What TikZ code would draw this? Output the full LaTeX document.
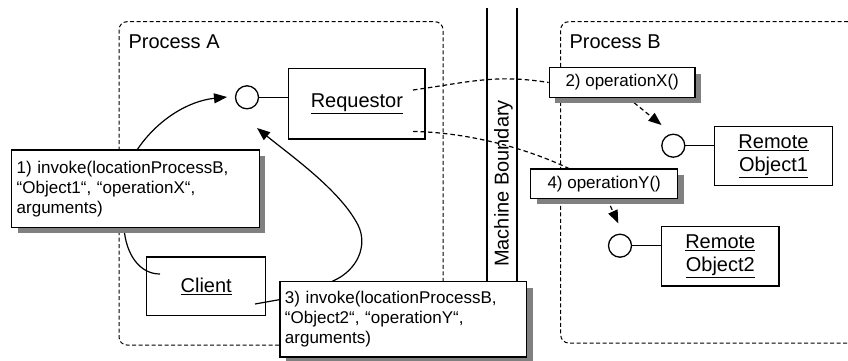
\documentclass[tikz,border=0pt]{standalone}
\usepackage{fontspec}
\setmainfont{Liberation Sans}
\usetikzlibrary{arrows.meta,shadows}
\pgfdeclarelayer{back}
\pgfdeclarelayer{front}
\pgfsetlayers{back,main,front}

\begin{document}
\begin{tikzpicture}[x=1pt,y=-1pt,
  label/.style={inner sep=0pt, font=\fontsize{20}{23}\selectfont},
  obj/.style={draw, line width=1.3pt, fill=white, inner sep=0pt, align=center,
    font=\fontsize{20}{23}\selectfont},
  port/.style={draw, circle, line width=1.3pt, fill=white, minimum size=23pt, inner sep=0pt},
  note/.style={draw, line width=1.3pt, fill=white, inner ysep=0pt, inner xsep=5pt,
    font=\fontsize{17}{20}\selectfont,
    drop shadow={shadow xshift=6pt, shadow yshift=-6pt, fill=black!50, opacity=1}},
  proc/.style={line width=1pt, dash pattern=on 4pt off 2.5pt, rounded corners=8pt},
  link/.style={line width=1.2pt},
  msg/.style={line width=1.2pt, dash pattern=on 4.5pt off 3pt},
  tip/.style={-{Triangle[length=13pt,width=10pt]}}
]
\useasboundingbox (0,0) rectangle (848,360);

% process containers and the machine boundary
\begin{pgfonlayer}{back}
  \draw[proc] (119,21.7) rectangle (443,345);
  \draw[proc] (848,21.7) -- (560.7,21.7) -- (560.7,343) -- (848,343);
  \draw[line width=1.8pt] (487.3,8) -- (487.3,300);
  \draw[line width=1.8pt] (516.7,8) -- (516.7,300);
\end{pgfonlayer}

\node[label, anchor=base west] (pa) at (128.3,48.3) {Process A};
\node[label, anchor=base west] (pb) at (569.3,48.3) {Process B};
\node[label, anchor=base, rotate=90] (mb) at (508.5,183.5) {Machine Boundary};

% objects with their interface ports
\node[obj, minimum width=136.3pt, minimum height=70.7pt] (req) at (356.9,103.7) {\underline{Requestor}};
\node[obj, minimum width=119pt, minimum height=58.3pt] (cli) at (206.2,286) {\underline{Client}};
\node[obj, minimum width=117.6pt, minimum height=59pt] (ro1) at (773.5,156.2) {\underline{Remote}\\\underline{Object1}};
\node[obj, minimum width=117.3pt, minimum height=59.3pt] (ro2) at (720.3,256.3) {\underline{Remote}\\\underline{Object2}};

\node[port] (p1) at (247,97.3) {};
\node[port] (p2) at (673.3,145.7) {};
\node[port] (p3) at (620,245.7) {};
\draw[link] (p1.east) -- (p1.east -| req.west);
\draw[link] (p2.east) -- (p2.east -| ro1.west);
\draw[link] (p3.east) -- (p3.east -| ro2.west);

% message notes
\begin{pgfonlayer}{front}
  \node[note, text width=237.6pt, minimum height=77.3pt, align=left] (n1) at (135.5,188.7)
    {1) invoke(locationProcessB,\\“Object1“, “operationX“,\\arguments)};
  \node[note, text width=236.7pt, minimum height=75.3pt, align=left] (n3) at (403.3,319.3)
    {3) invoke(locationProcessB,\\“Object2“, “operationY“,\\arguments)};
  \node[note, minimum width=145.7pt, minimum height=29.6pt] (n2) at (622.2,82.5) {2) operationX()};
  \node[note, minimum width=147pt, minimum height=29.3pt] (n4) at (604.2,183.7) {4) operationY()};
\end{pgfonlayer}

% connector end points
\coordinate (c1) at (160,274);
\coordinate (t1) at (227,97);
\coordinate (c3) at (255,304);
\coordinate (t3) at (257,128);
\coordinate (r1) at (413,90);
\coordinate (r2) at (413,131.5);
\coordinate (n4in) at (570,169);
\coordinate (t2) at (661.5,125);
\coordinate (t4) at (618.3,223.3);

% local invocations from the client
\draw[link, tip] (c1) .. controls (140,274) and (126,255) .. (124,228) -- (137,150)
  .. controls (157,120) and (188,101) .. (t1);
\draw[link, tip] (c3) -- (300,296) -- (333,281) .. controls (358,270) and (368,245) .. (358,225)
  .. controls (340,190) and (290,155) .. (t3);

% remote messages across the boundary
\draw[msg] (r1) .. controls (470,82) and (495,74) .. (n2.west);
\draw[msg] (r2) .. controls (460,132) and (520,145) .. (n4in);
\draw[msg, tip] ([xshift=6pt]n2.south) -- (t2);
\draw[msg, tip] ([xshift=3pt]n4.south) -- (t4);
\end{tikzpicture}
\end{document}
